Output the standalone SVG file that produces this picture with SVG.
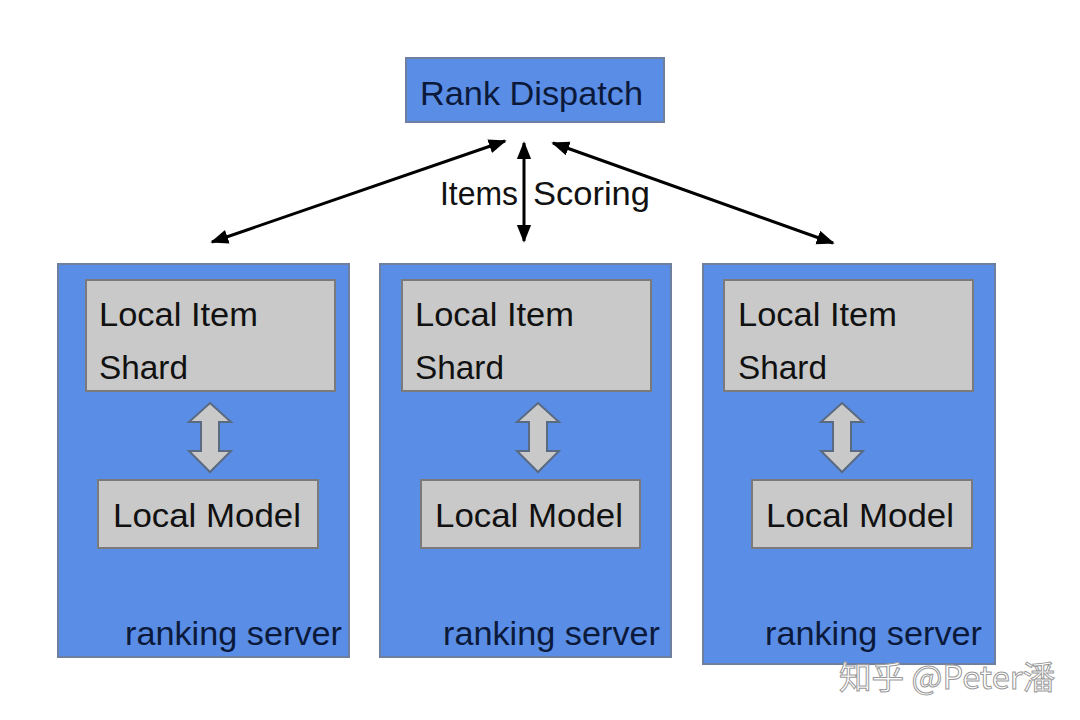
<svg xmlns="http://www.w3.org/2000/svg" width="1080" height="720" viewBox="0 0 1080 720">
<defs>
<style>
.blue{fill:#5a8de6;stroke:#6f7fa0;stroke-width:2}
.gray{fill:#c9c9c9;stroke:#7a7a7a;stroke-width:2}
.t{font-family:"Liberation Sans",Arial,sans-serif;font-size:33px;fill:#111}
.ts{font-family:"Liberation Sans",Arial,sans-serif;font-size:33px;fill:#0b1a3a}
.blk{fill:#c9c9c9;stroke:#5a6a80;stroke-width:2}
.conn{stroke:#000;stroke-width:3;fill:none}
</style>
<marker id="ah" viewBox="0 0 10 10" refX="9" refY="5" markerWidth="6" markerHeight="6" orient="auto-start-reverse" markerUnits="strokeWidth">
<path d="M0,1 L10,5 L0,9 Z" fill="#000"/>
</marker>
</defs>
<rect width="1080" height="720" fill="#fff"/>
<g id="dispatch">
<rect class="blue" x="406" y="58" width="258" height="64"/>
<text class="ts" x="420" y="105" textLength="223" lengthAdjust="spacingAndGlyphs">Rank Dispatch</text>
</g>
<g id="server1">
<rect class="blue" x="58" y="264" width="291" height="393"/>
<rect class="gray" x="86" y="280" width="249" height="111"/>
<text class="t" x="99" y="326" textLength="159" lengthAdjust="spacingAndGlyphs">Local Item</text>
<text class="t" x="99" y="379" textLength="89" lengthAdjust="spacingAndGlyphs">Shard</text>
<path class="blk" d="M210,403 L231,422 L219,422 L219,451 L231,451 L210,472 L189,451 L201,451 L201,422 L189,422 Z"/>
<rect class="gray" x="98" y="480" width="220" height="68"/>
<text class="t" x="113" y="527" textLength="188" lengthAdjust="spacingAndGlyphs">Local Model</text>
<text class="ts" x="125" y="645" textLength="217" lengthAdjust="spacingAndGlyphs">ranking server</text>
</g>
<g id="server2">
<rect class="blue" x="380" y="264" width="291" height="393"/>
<rect class="gray" x="402" y="280" width="249" height="111"/>
<text class="t" x="415" y="326" textLength="159" lengthAdjust="spacingAndGlyphs">Local Item</text>
<text class="t" x="415" y="379" textLength="89" lengthAdjust="spacingAndGlyphs">Shard</text>
<path class="blk" d="M538,403 L559,422 L547,422 L547,451 L559,451 L538,472 L517,451 L529,451 L529,422 L517,422 Z"/>
<rect class="gray" x="421" y="480" width="219" height="68"/>
<text class="t" x="435" y="527" textLength="188" lengthAdjust="spacingAndGlyphs">Local Model</text>
<text class="ts" x="443" y="645" textLength="217" lengthAdjust="spacingAndGlyphs">ranking server</text>
</g>
<g id="server3">
<rect class="blue" x="703" y="264" width="292" height="400"/>
<rect class="gray" x="724" y="280" width="249" height="111"/>
<text class="t" x="738" y="326" textLength="159" lengthAdjust="spacingAndGlyphs">Local Item</text>
<text class="t" x="738" y="379" textLength="89" lengthAdjust="spacingAndGlyphs">Shard</text>
<path class="blk" d="M842,403 L863,422 L851,422 L851,451 L863,451 L842,472 L821,451 L833,451 L833,422 L821,422 Z"/>
<rect class="gray" x="752" y="480" width="220" height="68"/>
<text class="t" x="766" y="527" textLength="188" lengthAdjust="spacingAndGlyphs">Local Model</text>
<text class="ts" x="765" y="645" textLength="217" lengthAdjust="spacingAndGlyphs">ranking server</text>
</g>
<g id="connectors">
<line class="conn" x1="212" y1="242" x2="505" y2="141" marker-start="url(#ah)" marker-end="url(#ah)"/>
<line class="conn" x1="524" y1="241" x2="524" y2="143" marker-start="url(#ah)" marker-end="url(#ah)"/>
<line class="conn" x1="833" y1="243" x2="553" y2="143" marker-start="url(#ah)" marker-end="url(#ah)"/>
<text class="t" x="440" y="205" textLength="78" lengthAdjust="spacingAndGlyphs">Items</text>
<text class="t" x="533" y="205" textLength="117" lengthAdjust="spacingAndGlyphs">Scoring</text>
</g>
<g id="watermark">
<text x="839" y="689" font-family="'Noto Sans CJK SC','Liberation Sans',sans-serif" font-size="32" fill="#ffffff" stroke="#9a9a9a" stroke-width="1" textLength="216" lengthAdjust="spacingAndGlyphs">知乎 @Peter潘</text>
</g>
</svg>
